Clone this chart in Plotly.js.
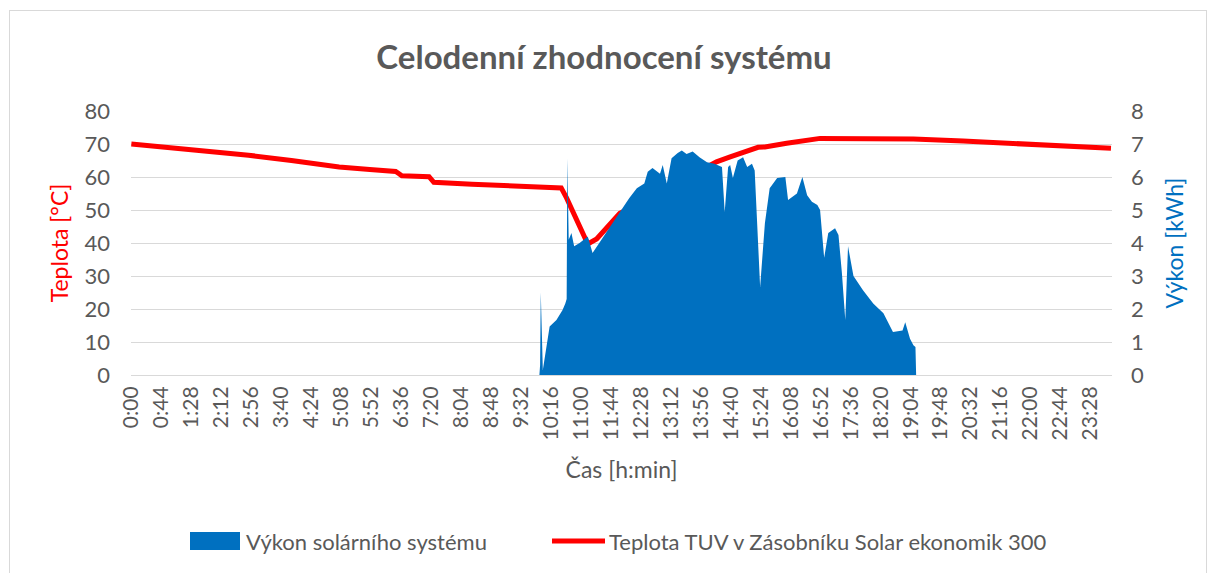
<!DOCTYPE html>
<html>
<head>
<meta charset="utf-8">
<script src="https://cdn.plot.ly/plotly-3.0.1.min.js"></script>
<style>
  body { margin:0; background:#fff; }
  #frame { position:absolute; left:9px; top:10px; width:1196px; height:570px; border:1px solid #d9d9d9; }
  #chart { position:absolute; left:0; top:0; width:1208px; height:573px; }
</style>
</head>
<body>
<div id="frame"></div>
<div id="chart"></div>
<script>
// Temperature (°C) — time "h:mm" and values
const tempTimes = ["0:00","1:24","2:52","3:55","5:05","5:50","6:28","6:33","6:37","7:17","7:24","8:20","9:34","10:28","10:31","10:39","11:10","11:23","11:57","12:07","13:00","13:50","14:19","14:39","15:12","15:20","15:30","15:52","16:02","16:51","17:40","19:08","20:21","21:35","22:49","23:58"];
const tempValues = [70.0,68.4,66.6,65.0,63.0,62.3,61.7,61.0,60.4,60.1,58.4,57.8,57.3,56.9,56.7,53.6,39.7,41.2,49.0,50.0,56.0,61.6,64.6,66.1,68.7,69.0,69.1,69.7,70.2,71.7,71.7,71.5,70.9,70.2,69.7,68.7];

// Solar power (kWh)
const powTimes = ["0:00","9:59","10:00","10:01","10:04","10:14","10:24","10:33","10:37","10:39","10:40","10:42","10:46","10:50","10:58","11:10","11:17","11:30","11:46","12:00","12:11","12:22","12:33","12:38","12:45","12:56","13:00","13:06","13:13","13:22","13:28","13:35","13:44","13:54","14:05","14:16","14:27","14:31","14:36","14:39","14:43","14:50","14:58","15:04","15:11","15:15","15:23","15:30","15:37","15:48","16:00","16:04","16:17","16:25","16:32","16:39","16:47","16:51","16:57","17:03","17:13","17:18","17:23","17:28","17:32","17:40","17:54","18:09","18:24","18:38","18:52","18:56","19:03","19:08","19:11","19:12","23:59"];
const powValues = [0,0,0.3,2.5,0.15,1.47,1.67,1.97,2.17,2.3,6.57,4.1,4.3,3.9,4.0,4.2,3.7,4.1,4.6,5.0,5.36,5.66,5.8,6.16,6.27,6.1,6.36,5.8,6.57,6.73,6.8,6.7,6.77,6.6,6.45,6.4,6.3,4.94,6.3,6.36,5.97,6.5,6.6,6.3,6.4,6.2,2.67,4.6,5.66,5.97,6.0,5.3,5.5,6.0,5.45,5.25,5.15,5.0,3.55,4.3,4.45,4.24,3.1,1.67,3.9,3.0,2.57,2.17,1.87,1.3,1.35,1.6,1.1,0.9,0.85,0,0];

// X tick labels (every 44 minutes)
const xTickLabels = ["0:00","0:44","1:28","2:12","2:56","3:40","4:24","5:08","5:52","6:36","7:20","8:04","8:48","9:32","10:16","11:00","11:44","12:28","13:12","13:56","14:40","15:24","16:08","16:52","17:36","18:20","19:04","19:48","20:32","21:16","22:00","22:44","23:28"];

const seriesNames = ['Výkon solárního systému', 'Teplota TUV v Zásobníku Solar ekonomik 300'];
const blue = '#0070C0', red = '#FF0000';

const toMin = s => { const [h,m] = s.split(":").map(Number); return h*60+m; };

const font = '"Lato", "Open Sans", sans-serif';
const grey = '#595959';

const traces = [
  {
    x: powTimes.map(toMin), y: powValues, yaxis: 'y2',
    type: 'scatter', mode: 'lines', fill: 'tozeroy',
    line: {width: 0, color: blue}, fillcolor: blue,
    name: seriesNames[0], showlegend: false
  },
  {
    x: tempTimes.map(toMin), y: tempValues,
    type: 'scatter', mode: 'lines',
    line: {width: 5, color: red},
    name: seriesNames[1], showlegend: false
  }
];

// Custom legend (paper coords from pixel positions)
const W = 981, H = 264, L = 131, B = 375;
const px = x => (x - L) / W;
const py = y => (B - y) / H;

const layout = {
  width: 1208, height: 573,
  paper_bgcolor: 'rgba(0,0,0,0)', plot_bgcolor: 'rgba(0,0,0,0)',
  margin: {l: 131, r: 96, t: 111, b: 198},
  title: {text: 'Celodenní zhodnocení systému', font: {family: font, size: 33, color: grey, weight: 'bold'}, x: 0.5, xanchor: 'center', y: 0.9, yanchor: 'middle'},
  font: {family: font, color: grey},
  showlegend: false,
  xaxis: {
    range: [-0.5, 1439.5], tickmode: 'array',
    tickvals: xTickLabels.map(toMin), ticktext: xTickLabels,
    tickangle: -90, tickfont: {size: 21, color: grey},
    showgrid: false, zeroline: false, showline: true, linecolor: '#d9d9d9', linewidth: 1, ticks: '',
    ticklabelstandoff: 2,
    title: {text: 'Čas [h:min]', font: {size: 23, color: grey}, standoff: 22}
  },
  yaxis: {
    range: [0, 80], dtick: 10, tickfont: {size: 22, color: grey},
    showgrid: true, gridcolor: '#d9d9d9', gridwidth: 1, zeroline: false, ticks: '',
    ticklabelstandoff: 20,
    title: {text: 'Teplota [°C]', font: {size: 23, color: red}, standoff: 9}
  },
  yaxis2: {
    range: [0, 8], dtick: 1, overlaying: 'y', side: 'right', tickfont: {size: 22, color: grey},
    showgrid: false, zeroline: false, ticks: '',
    ticklabelstandoff: 18,
    title: {text: 'Výkon [kWh]', font: {size: 23, color: blue}, standoff: 23}
  },
  shapes: [
    {type: 'rect', xref: 'paper', yref: 'paper', x0: px(190), x1: px(240), y0: py(550), y1: py(532), fillcolor: blue, line: {width: 0}},
    {type: 'line', xref: 'paper', yref: 'paper', x0: px(552), x1: px(605), y0: py(541), y1: py(541), line: {color: red, width: 5}}
  ],
  annotations: [
    {xref: 'paper', yref: 'paper', x: px(244), y: py(541), xanchor: 'left', yanchor: 'middle', showarrow: false, text: seriesNames[0], font: {size: 22, color: grey}},
    {xref: 'paper', yref: 'paper', x: px(607), y: py(541), xanchor: 'left', yanchor: 'middle', showarrow: false, text: seriesNames[1], font: {size: 22, color: grey}}
  ]
};

Plotly.newPlot('chart', traces, layout, {displayModeBar: false, staticPlot: true});
</script>
</body>
</html>
